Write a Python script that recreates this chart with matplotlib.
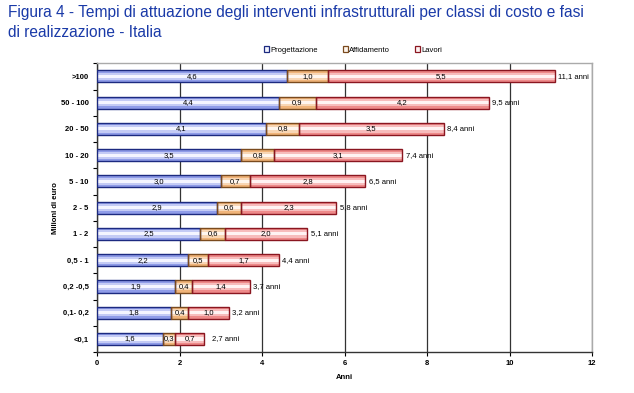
import matplotlib.pyplot as plt
from matplotlib.patches import Patch
import numpy as np

# Data
categories = [">100", "50 - 100", "20 - 50", "10 - 20", "5 - 10", "2 - 5",
              "1 - 2", "0,5 - 1", "0,2 -0,5", "0,1- 0,2", "<0,1"]
progettazione = [4.6, 4.4, 4.1, 3.5, 3.0, 2.9, 2.5, 2.2, 1.9, 1.8, 1.6]
affidamento = [1.0, 0.9, 0.8, 0.8, 0.7, 0.6, 0.6, 0.5, 0.4, 0.4, 0.3]
lavori = [5.5, 4.2, 3.5, 3.1, 2.8, 2.3, 2.0, 1.7, 1.4, 1.0, 0.7]
totali = [11.1, 9.5, 8.4, 7.4, 6.5, 5.8, 5.1, 4.4, 3.7, 3.2, 2.7]
series_names = ["Progettazione", "Affidamento", "Lavori"]

plt.rcParams['font.family'] = ['Liberation Sans', 'DejaVu Sans']

fig = plt.figure(figsize=(6.34, 3.93), dpi=100)
ax = fig.add_axes([0.153, 0.104, 0.781, 0.735])

y = np.arange(len(categories))
h = 0.46

# (edge, outer fill, mid fill, centre fill)
styles = [
    ("#1c2a80", "#8f9ce8", "#c4cbf5", "#f4f5ff"),
    ("#7a4a1e", "#f0b47a", "#f8d6b4", "#fff6ee"),
    ("#8a1620", "#ee8a8a", "#f7bcbc", "#fff3f3"),
]

left = np.zeros(len(categories))
for vals, (edge, c1, c2, c3) in zip([progettazione, affidamento, lavori], styles):
    vals = np.array(vals)
    ax.barh(y, vals, h, left=left, color=c1, edgecolor='none', zorder=3)
    ax.barh(y, vals, h * 0.6, left=left, color=c2, edgecolor='none', zorder=3)
    ax.barh(y, vals, h * 0.25, left=left, color=c3, edgecolor='none', zorder=3)
    ax.barh(y, vals, h, left=left, color='none', edgecolor=edge, linewidth=1.0, zorder=4)
    for yi, l, v in zip(y, left, vals):
        ax.text(l + v / 2, yi, f"{v:.1f}".replace('.', ','), ha='center', va='center',
                fontsize=5.5, color='black', zorder=5)
    left = left + vals

for yi, t in zip(y, totali):
    ax.text(t + 0.08, yi, f"{t:.1f} anni".replace('.', ','), ha='left', va='center',
            fontsize=5.5, color='black', zorder=5)

ax.set_xlim(0, 12)
ax.set_ylim(len(categories) - 0.5, -0.5)
ax.set_xticks(range(0, 13, 2))
ax.set_xticklabels([str(v) for v in range(0, 13, 2)], fontsize=5.5, fontweight='bold')
ax.set_yticks(y)
ax.set_yticklabels(categories, fontsize=5.5, fontweight='bold')
ax.set_yticks(np.arange(-0.5, len(categories), 1), minor=True)
ax.tick_params(axis='y', which='major', length=0, pad=6)
ax.tick_params(axis='y', which='minor', length=3, width=0.8, direction='out')
ax.tick_params(axis='x', length=3, width=0.8, direction='out', pad=3)

ax.xaxis.grid(True, color='#333333', linewidth=0.9, zorder=0)
ax.set_axisbelow(True)
for s in ['top', 'right']:
    ax.spines[s].set_color('#aaaaaa')
    ax.spines[s].set_linewidth(1.0)
for s in ['left', 'bottom']:
    ax.spines[s].set_color('#333333')
    ax.spines[s].set_linewidth(1.0)

ax.set_xlabel("Anni", fontsize=5.5, fontweight='bold', labelpad=5)
ax.set_ylabel("Milioni di euro", fontsize=5.5, fontweight='bold', labelpad=1)

handles = [Patch(facecolor=s[3], edgecolor=s[0], linewidth=0.9) for s in styles]
fig.legend(handles, series_names, loc='center', bbox_to_anchor=(0.557, 0.873),
           ncol=3, frameon=False, fontsize=5.5, handlelength=0.7, handleheight=0.7,
           handletextpad=0.2, columnspacing=3.2)

fig.text(0.012, 0.968, "Figura 4 - Tempi di attuazione degli interventi infrastrutturali per classi di costo e fasi",
         fontsize=11.2, color='#1a3aa8', ha='left', va='center')
fig.text(0.012, 0.917, "di realizzazione - Italia",
         fontsize=11.2, color='#1a3aa8', ha='left', va='center')

fig.savefig("out.png", dpi=100)
